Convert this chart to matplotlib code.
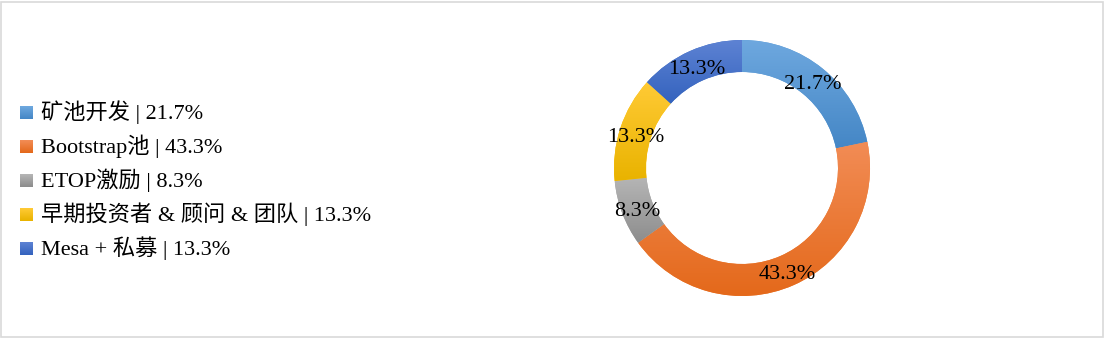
import matplotlib
matplotlib.use("Agg")
import matplotlib.pyplot as plt
import numpy as np
from matplotlib.patches import Rectangle
from matplotlib.colors import LinearSegmentedColormap

plt.rcParams['font.family'] = ['Liberation Serif', 'Noto Sans CJK SC', 'DejaVu Sans']

labels = ['矿池开发', 'Bootstrap池', 'ETOP激励', '早期投资者 & 顾问 & 团队', 'Mesa + 私募']
values = [21.7, 43.3, 8.3, 13.3, 13.3]
base_colors = ['#5B9BD5', '#ED7D31', '#A5A5A5', '#FFC000', '#4472C4']
top_colors = ['#6EA8DF', '#F28C55', '#B5B5B5', '#FFCA35', '#5D82D3']
bot_colors = ['#4587C6', '#E4691B', '#8D8D8D', '#E9B300', '#3463BE']

W, H = 1105, 338
fig = plt.figure(figsize=(W / 100, H / 100), dpi=100)

# outer frame
fig.patches.append(Rectangle((1 / W, 1 / H), 1 - 3 / W, 1 - 3 / H, transform=fig.transFigure,
                             fill=False, edgecolor='#D9D9D9', lw=1.2))

# donut: center (742,168) px, radius 128 px
cx, cy, r = 742, 168, 128
ax = fig.add_axes([(cx - r) / W, (H - cy - r) / H, 2 * r / W, 2 * r / H])
wedges, _ = ax.pie(values, startangle=90, counterclock=False, radius=1.0,
                   colors=base_colors, wedgeprops=dict(width=0.25, linewidth=0))
ax.set_xlim(-1, 1)
ax.set_ylim(-1, 1)
ax.set_aspect('equal')
ax.axis('off')

for w, c1, c2 in zip(wedges, top_colors, bot_colors):
    ext = w.get_path().get_extents()
    cmap = LinearSegmentedColormap.from_list('g', [c2, c1])
    grad = np.linspace(0, 1, 64).reshape(-1, 1)
    im = ax.imshow(grad, cmap=cmap, origin='lower', aspect='auto', interpolation='bilinear',
                   extent=[ext.x0, ext.x1, ext.y0, ext.y1], zorder=2)
    im.set_clip_path(w)

# value labels in the middle of the ring
for w, v in zip(wedges, values):
    mid = np.deg2rad((w.theta1 + w.theta2) / 2)
    ax.text(0.875 * np.cos(mid), 0.875 * np.sin(mid) - 0.03, f'{v}%', ha='center', va='center',
            fontsize=16, color='black', zorder=5)

# legend (small gradient squares)
ys = [112, 146, 180, 214, 248]
for lab, v, c1, c2, y in zip(labels, values, top_colors, bot_colors, ys):
    lax = fig.add_axes([20 / W, (H - y - 7) / H, 13 / W, 13 / H])
    lax.imshow(np.linspace(0, 1, 16).reshape(-1, 1), origin='lower', aspect='auto',
               cmap=LinearSegmentedColormap.from_list('g', [c2, c1]))
    lax.axis('off')
    fig.text(41 / W, (H - y) / H, f'{lab} | {v}%', ha='left', va='center', fontsize=16)

fig.savefig('out.png', dpi=100)
